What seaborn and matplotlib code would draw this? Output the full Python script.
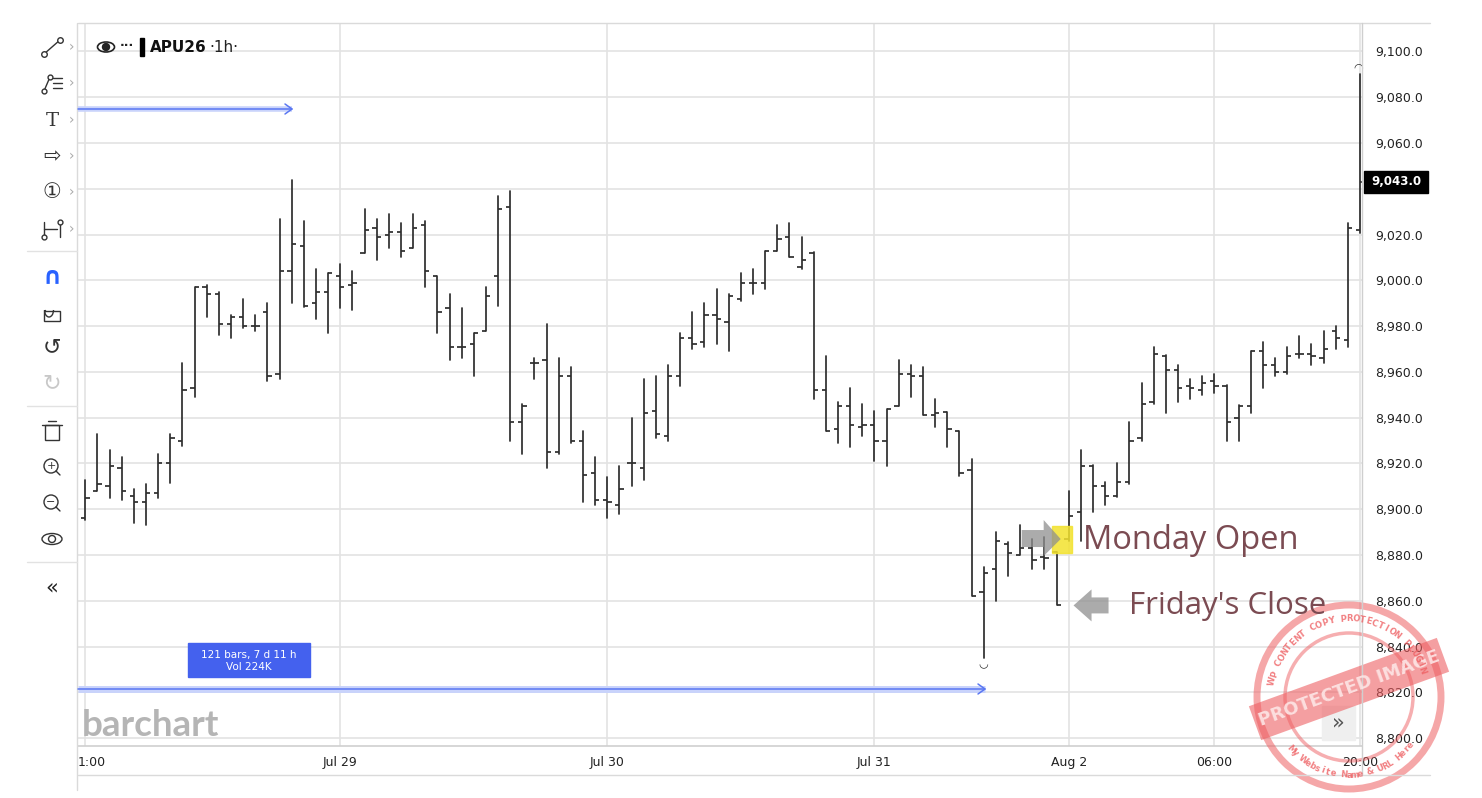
import numpy as np
import pandas as pd
import matplotlib
matplotlib.use('Agg')
import matplotlib.pyplot as plt
import matplotlib.patches as mpatches
import seaborn as sns

# APU26 hourly bars (open, high, low, close)
bar_open = [8896, 8908, 8910, 8918, 8906, 8903, 8907, 8920, 8930, 8953,
            8997, 8994, 8981, 8984, 8980, 8986, 8959, 9004, 9015, 8990,
            8995, 9002, 8998, 9012, 9023, 9020, 9021, 9014, 9024, 9002,
            8988, 8971, 8972, 8978, 9002, 9032, 8938, 8964, 8965, 8925,
            8958, 8930, 8916, 8904, 8902, 8920, 8918, 8943, 8932, 8958,
            8975, 8973, 8985, 8982, 8992, 8999, 8999, 9013, 9019, 9006,
            9012, 8952, 8935, 8945, 8936, 8937, 8930, 8945, 8959, 8958,
            8941, 8942.5, 8934, 8917, 8864, 8874, 8885, 8880, 8883, 8879,
            8881.5, 8887, 8899, 8919, 8910, 8906, 8912, 8931, 8947, 8967,
            8961, 8954, 8952, 8956, 8954, 8940, 8945, 8969, 8963, 8960,
            8968, 8968, 8966, 8978, 8974, 9022]
bar_high = [8913, 8933, 8926, 8923, 8909, 8911, 8924, 8933, 8964, 8997,
            8998, 8995, 8985, 8992, 8985, 8990, 9027, 9044, 9026, 9005,
            9003, 9007, 9004, 9031, 9027, 9029, 9025, 9029, 9026, 9002,
            8994, 8988, 8977, 8997, 9037, 9039, 8946, 8966, 8981, 8966,
            8962, 8934, 8923, 8914, 8919, 8940, 8957, 8958, 8963, 8977,
            8986, 8990, 8996, 8994, 9003, 9005, 9013, 9024, 9025, 9019,
            9012.5, 8967, 8947, 8953, 8946, 8943, 8944, 8965, 8963, 8962,
            8948, 8942.5, 8934, 8922, 8875, 8890, 8885.5, 8893, 8887, 8888,
            8881.5, 8908, 8926, 8919.5, 8912, 8920, 8938, 8955, 8971, 8967.5,
            8963, 8957, 8958, 8959, 8954.5, 8945.5, 8969, 8973, 8966, 8971,
            8975.5, 8972, 8978, 8980, 9025, 9090]
bar_low = [8895.5, 8908, 8905, 8904, 8894, 8893, 8905, 8911.5, 8927.5, 8949,
           8984, 8976, 8975, 8979, 8978, 8956, 8957, 8990, 8988.5, 8983,
           8977, 8988, 8987, 9012, 9009, 9014, 9010, 9014, 8997, 8977,
           8965, 8966, 8958, 8978, 8989, 8930, 8924, 8957, 8918, 8924,
           8929, 8903, 8902, 8896, 8898, 8910, 8913, 8931, 8930, 8954,
           8970, 8971, 8972, 8969, 8991, 8994, 8996, 9013, 9010, 9005,
           8948, 8934, 8929, 8927, 8932, 8921, 8919, 8945, 8949, 8941,
           8936, 8927, 8914.5, 8862, 8835, 8860, 8871, 8880, 8874, 8874,
           8858, 8886, 8886, 8899, 8902, 8905.5, 8911, 8930, 8946, 8942,
           8947, 8948, 8950, 8951, 8930, 8930, 8942, 8953, 8958, 8959,
           8966, 8963, 8964, 8970, 8971, 9020.5]
bar_close = [8905, 8911, 8919, 8908, 8903, 8907, 8920, 8931, 8952, 8997,
             8994, 8981, 8984, 8980, 8980, 8958, 9004, 9016, 8989, 8995,
             9003, 8997, 8999, 9022, 9019, 9021, 9013, 9023, 9004, 8986,
             8971, 8971, 8977, 8993, 9031, 8938, 8945, 8964, 8925, 8958,
             8930, 8915, 8904, 8903, 8909, 8920, 8942, 8933, 8958, 8975,
             8972, 8985, 8983, 8993, 8999, 8999, 9013, 9018, 9010, 9009,
             8952, 8934, 8945, 8937, 8937, 8930, 8944, 8959, 8958, 8941,
             8942, 8935, 8916, 8862, 8872, 8886, 8881, 8883, 8878, 8878.5,
             8858, 8897, 8919, 8910, 8906, 8912, 8930, 8946, 8968, 8961,
             8953, 8953, 8955, 8954, 8938, 8945, 8969, 8963, 8960, 8967,
             8968, 8967, 8970, 8975, 9023, 9043]

tick_bars = [0, 21, 43, 65, 81, 93, 105]
tick_names = ['1:00', 'Jul 29', 'Jul 30', 'Jul 31', 'Aug 2', '06:00', '20:00']
price_ticks = list(range(8800, 9101, 20))
last_price = 9043.0
friday_bar = 80
monday_bar = 81

W, H = 1482, 798
bar_col = '#2e2e2e'
grid_col = '#e3e3e3'
note_col = '#7b4b52'

sns.set_style('white')
plt.rcParams['font.family'] = ['DejaVu Sans']

fig = plt.figure(figsize=(W / 100, H / 100), dpi=100)
ax = fig.add_axes([78 / W, 1 - 746 / H, (1362 - 78) / W, (746 - 23) / H])

n = len(bar_open)
idx = np.arange(n)
hl = pd.DataFrame({'bar': np.repeat(idx, 2),
                   'price': np.column_stack([bar_low, bar_high]).ravel()})
sns.lineplot(data=hl, x='bar', y='price', units='bar', estimator=None,
             sort=False, color=bar_col, lw=1.25, ax=ax, legend=False)
ax.hlines(bar_open, idx - 0.35, idx, color=bar_col, lw=1.25)
ax.hlines(bar_close, idx, idx + 0.35, color=bar_col, lw=1.25)

# range high / low markers
lo = int(np.argmin(bar_low))
hi = int(np.argmax(bar_high))
ax.annotate('◡', (lo, bar_low[lo]), xytext=(0, -1), textcoords='offset points',
            ha='center', va='top', fontsize=8, color=bar_col)
ax.annotate('◠', (hi, bar_high[hi]), xytext=(-1, 1), textcoords='offset points',
            ha='center', va='bottom', fontsize=8, color=bar_col)

ax.set_xlim(-0.6, 105.16)
ax.set_ylim(8796.6, 9112.4)
ax.set_yticks(price_ticks)
# the last-price tag covers the nearest grid label
ax.set_yticklabels(['' if abs(v - last_price) < 8 else f'{v:,.1f}' for v in price_ticks])
ax.set_xticks(tick_bars)
ax.set_xticklabels([''] + tick_names[1:])
ax.yaxis.tick_right()
ax.tick_params(axis='y', length=0, pad=9.5, labelsize=9, labelcolor='#222222')
ax.tick_params(axis='x', length=0, pad=7, labelsize=9, labelcolor='#222222')
ax.grid(True, color=grid_col, lw=1.2)
ax.set_axisbelow(True)
ax.set_xlabel('')
ax.set_ylabel('')
for s in ['top', 'left', 'right']:
    ax.spines[s].set_visible(False)
ax.spines['bottom'].set_color('#cfcfcf')
ax.spines['bottom'].set_linewidth(1.2)
ax.text(0, -0.0225, tick_names[0], transform=ax.transAxes, ha='left', va='center',
        fontsize=9, color='#222222')

# pixel overlay for the widget chrome and drawn notes
ov = fig.add_axes([0, 0, 1, 1], zorder=5)
ov.set_xlim(0, W)
ov.set_ylim(H, 0)
ov.axis('off')
ov.patch.set_alpha(0)


def to_px(bar, price):
    x, y = ax.transData.transform((bar, price))
    return x, H - y


# frame lines
ov.plot([78, 1430], [23, 23], color='#dadada', lw=1)
ov.plot([78, 1430], [775, 775], color='#dadada', lw=1)
ov.plot([77, 77], [23, 790], color='#dadada', lw=1)
ov.plot([1362, 1362], [23, 775], color='#cfcfcf', lw=1)

# toolbar
for y in [251, 406, 562]:
    ov.plot([27, 77], [y, y], color='#e2e2e2', lw=1)
for y in [47, 83, 120, 156, 192, 229]:
    ov.text(72, y, '›', color='#aaaaaa', fontsize=10, ha='center', va='center')
ov.plot([44, 60], [54, 40], color='#333', lw=1, marker='o', ms=4, mfc='white', mec='#333')
ov.plot([44, 50], [91, 77], color='#333', lw=1, marker='o', ms=3.5, mfc='white', mec='#333')
for y in [78, 83, 88]:
    ov.plot([53, 62], [y, y], color='#333', lw=1)
ov.text(52, 121, 'T', fontsize=14, ha='center', va='center', color='#333', family='DejaVu Serif')
ov.text(52, 156, '⇨', fontsize=15, ha='center', va='center', color='#333')
ov.text(52, 192, '①', fontsize=15, ha='center', va='center', color='#333')
ov.plot([44, 44], [222, 237], color='#333', lw=1)
ov.plot([60, 60], [222, 237], color='#333', lw=1)
ov.plot([44, 57], [229, 229], color='#333', lw=1)
ov.plot([44, 60], [237, 222], ls='none', marker='o', ms=3.5, mfc='white', mec='#333')
ov.text(52, 276, '∩', fontsize=17, ha='center', va='center', color='#2962ff', weight='bold')
ov.add_patch(mpatches.Rectangle((44, 311), 16, 10, fill=False, ec='#333', lw=1))
ov.add_patch(mpatches.Arc((49, 310), 9, 14, theta1=0, theta2=180, ec='#333', lw=1))
ov.plot([44.5, 44.5], [310, 311], color='#333', lw=1)
ov.text(52, 347, '↺', fontsize=16, ha='center', va='center', color='#333')
ov.text(52, 383, '↻', fontsize=16, ha='center', va='center', color='#c8c8c8')
ov.add_patch(mpatches.Rectangle((45, 425), 14, 15, fill=False, ec='#333', lw=1))
ov.plot([42, 62], [425, 425], color='#333', lw=1)
ov.plot([48, 56], [421, 421], color='#333', lw=1)
for y, sign in [(466, '+'), (502, '−')]:
    ov.add_patch(mpatches.Circle((51, y), 7, fill=False, ec='#333', lw=1))
    ov.plot([56, 60], [y + 5, y + 9], color='#333', lw=1)
    ov.text(51, y, sign, fontsize=8, ha='center', va='center', color='#333')
ov.add_patch(mpatches.Ellipse((52, 539), 20, 11, fill=False, ec='#333', lw=1))
ov.add_patch(mpatches.Circle((52, 539), 3.5, fill=False, ec='#333', lw=1))
ov.text(52, 587, '«', fontsize=15, ha='center', va='center', color='#222')

# header
ov.add_patch(mpatches.Ellipse((106, 47), 17, 10, fc='white', ec='#222', lw=1.2))
ov.add_patch(mpatches.Circle((106, 47), 3.5, color='#222'))
ov.text(127, 45, '···', fontsize=9, ha='center', va='center', color='#222', weight='bold')
ov.add_patch(mpatches.Rectangle((140, 38), 3.5, 18, color='black'))
sym = ov.text(150, 47, 'APU26', fontsize=11, weight='bold', ha='left', va='center', color='#111')
fig.canvas.draw()
sym_end = sym.get_window_extent().x1
ov.text(sym_end + 3, 47, '·1h·', fontsize=11, ha='left', va='center', color='#222')

# ruler lines
ov.plot([78, 292], [109, 109], color='#c9d3fb', lw=4, solid_capstyle='butt')
ov.plot([78, 292], [109, 109], color='#5a77f2', lw=1.1)
ov.plot([285, 292, 285], [104, 109, 114], color='#5a77f2', lw=1.1)
ov.plot([78, 985], [689, 689], color='#c9d3fb', lw=5, solid_capstyle='butt')
ov.plot([78, 985], [689, 689], color='#5a77f2', lw=1.1)
ov.plot([978, 985, 978], [684, 689, 694], color='#5a77f2', lw=1.1)
ov.add_patch(mpatches.Rectangle((188, 643), 122, 34, color='#4461ee'))
ov.text(249, 655, '121 bars, 7 d 11 h', fontsize=7.5, color='white', ha='center', va='center')
ov.text(249, 667, 'Vol 224K', fontsize=7.5, color='white', ha='center', va='center')

ov.text(82, 726, 'barchart', fontsize=26.5, weight='bold', color='#b5b5b5',
        ha='left', va='center', family='Lato')

# last price tag
_, py = to_px(0, last_price)
ov.add_patch(mpatches.Rectangle((1364, py - 11), 64, 22, color='black'))
ov.text(1396, py, f'{last_price:,.1f}', fontsize=8.5, weight='bold', color='white',
        ha='center', va='center')

# Monday open / Friday close notes
mx, my = to_px(monday_bar, bar_open[monday_bar])
ov.add_patch(mpatches.Rectangle((mx - 17, my - 13), 20, 27, color='#f3e22e', alpha=0.85))
ov.add_patch(mpatches.Polygon([(mx - 47, my - 9), (mx - 25, my - 9), (mx - 25, my - 19),
                               (mx - 8, my), (mx - 25, my + 17), (mx - 25, my + 8),
                               (mx - 47, my + 8)], color='#8f8f8f', alpha=0.75, lw=0))
ov.text(mx + 14, my + 1, 'Monday Open', fontsize=23.5, color=note_col, ha='left',
        va='center', family='Open Sans')
fx, fy = to_px(friday_bar, bar_close[friday_bar])
ov.add_patch(mpatches.Polygon([(fx + 17, fy), (fx + 35, fy - 16), (fx + 35, fy - 8),
                               (fx + 52, fy - 8), (fx + 52, fy + 8), (fx + 35, fy + 8),
                               (fx + 35, fy + 16)], color='#8f8f8f', alpha=0.75, lw=0))
ov.text(fx + 72, fy + 1, "Friday's Close", fontsize=22.5, color=note_col, ha='left',
        va='center', family='Open Sans')

# scroll button
ov.add_patch(mpatches.Rectangle((1322, 706), 33, 34, color='#efefef'))
ov.text(1338, 722, '»', fontsize=15, color='#555', ha='center', va='center')

# protection stamp
cx, cy = 1349, 697
stamp = '#ee5f62'
ov.add_patch(mpatches.Circle((cx, cy), 92, fill=False, ec=stamp, lw=5, alpha=0.55))
ov.add_patch(mpatches.Circle((cx, cy), 64, fill=False, ec=stamp, lw=2.5, alpha=0.5))
ang = np.deg2rad(20)
d = np.array([np.cos(ang), -np.sin(ang)])
p = np.array([np.sin(ang), np.cos(ang)])
c = np.array([cx, cy - 8])
band = [c - 100 * d - 18 * p, c + 100 * d - 18 * p, c + 100 * d + 18 * p, c - 100 * d + 18 * p]
ov.add_patch(mpatches.Polygon(band, color=stamp, alpha=0.6, lw=0))
ov.text(c[0], c[1], 'PROTECTED IMAGE', rotation=20, fontsize=13, weight='bold',
        color='#fde6e6', ha='center', va='center', alpha=0.9)
top_txt = 'WP CONTENT COPY PROTECTION PLUGIN'
for k, ch in enumerate(top_txt):
    a = np.deg2rad(168 - k * 148 / (len(top_txt) - 1))
    ov.text(cx + 78 * np.cos(a), cy - 78 * np.sin(a), ch, rotation=np.rad2deg(a) - 90,
            fontsize=6, weight='bold', color=stamp, alpha=0.8, ha='center', va='center')
bot_txt = 'My Website Name & URL Here'
for k, ch in enumerate(bot_txt):
    a = np.deg2rad(222 + k * 100 / (len(bot_txt) - 1))
    ov.text(cx + 78 * np.cos(a), cy - 78 * np.sin(a), ch, rotation=np.rad2deg(a) - 270,
            fontsize=6, weight='bold', color=stamp, alpha=0.8, ha='center', va='center')

fig.savefig('out.png', dpi=100)
